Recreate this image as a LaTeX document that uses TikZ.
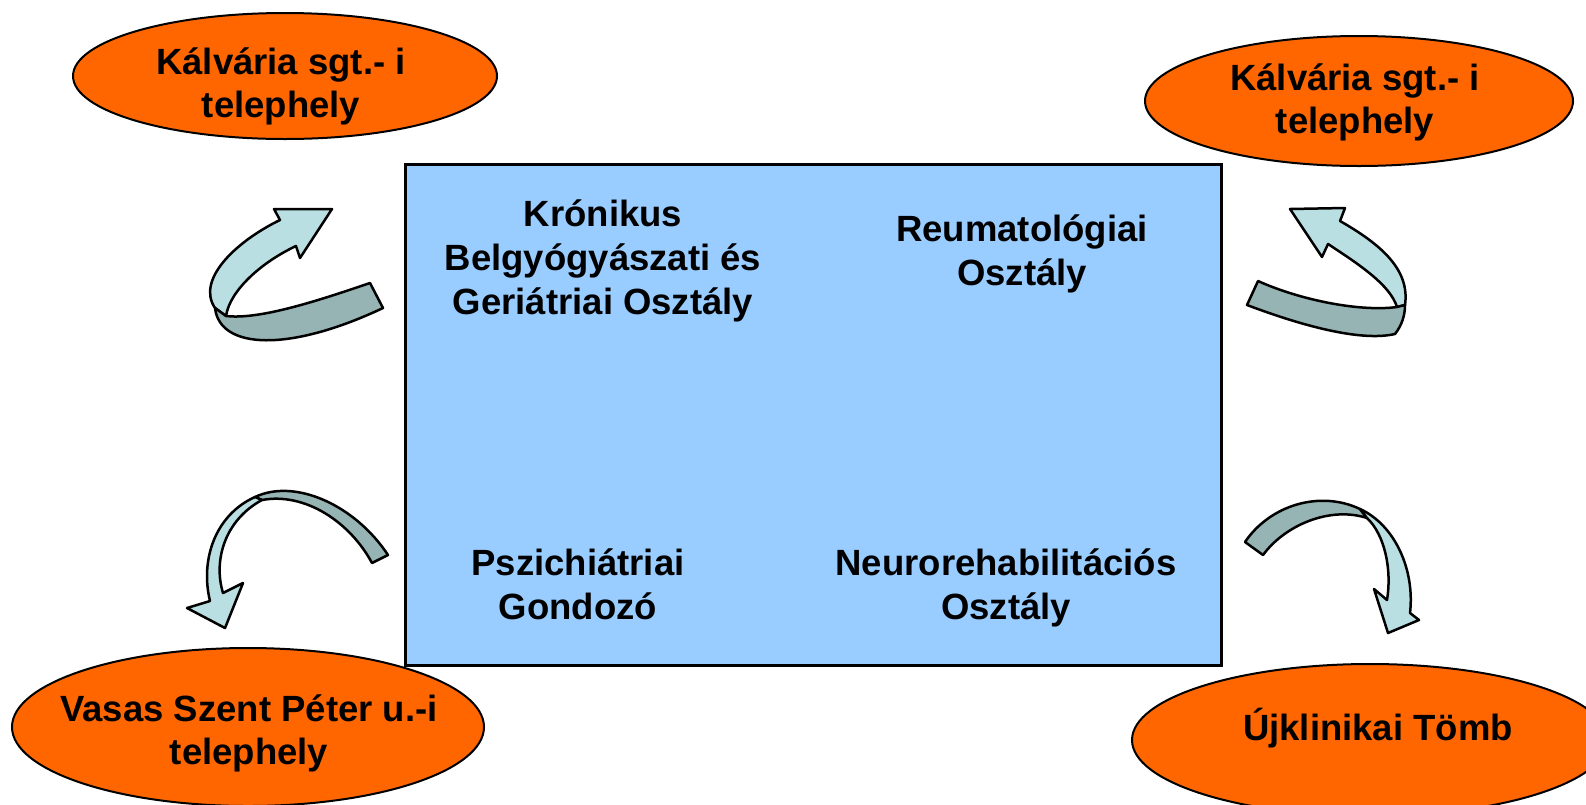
\documentclass[tikz,border=0pt]{standalone}
\usepackage{fontspec}
\setmainfont{Liberation Sans}
\usetikzlibrary{shapes.geometric}
\definecolor{orng}{HTML}{FF6600}
\definecolor{boxblue}{HTML}{99CCFF}
\definecolor{ribbonlight}{HTML}{B9DFE2}
\definecolor{ribbondark}{HTML}{96B4B4}
\tikzset{
  site/.style={ellipse, draw=black, line width=2pt, fill=orng, inner sep=0pt},
  sitetext/.style={anchor=base, inner sep=0pt, font=\bfseries\fontsize{36.5}{43}\selectfont},
  unittext/.style={anchor=base, inner sep=0pt, font=\bfseries\fontsize{36.5}{44}\selectfont},
  ribbonA/.style={fill=ribbonlight, draw=black, line width=2.5pt, line join=round},
  ribbonB/.style={fill=ribbondark, draw=black, line width=2.5pt, line join=round}
}
\newcommand{\lines}[1]{\begin{tabular}[t]{@{}c@{}}#1\end{tabular}}
\begin{document}
\begin{tikzpicture}[x=1pt,y=-1pt]
\useasboundingbox (0,0) rectangle (1586,804);
\begin{scope}
\clip (0,0) rectangle (1586,804);
% ellipses
\node[site, minimum width=424, minimum height=126] (kalvA) at (285,76) {};
\node[site, minimum width=428, minimum height=130] (kalvB) at (1359,101) {};
\node[site, minimum width=472, minimum height=158] (vasas) at (248,727) {};
\node[site, minimum width=476, minimum height=152] (ujkl) at (1370,740) {};
\end{scope}
\node[sitetext] (kalvAt) at (281,74) {\lines{Kálvária sgt.- i\\telephely}};
\node[sitetext] (kalvBt) at (1355,90) {\lines{Kálvária sgt.- i\\telephely}};
\node[sitetext] (vasast) at (249,721) {\lines{Vasas Szent Péter u.-i\\telephely}};
\node[sitetext] (ujklt) at (1378,740) {Újklinikai Tömb};
% central box
\node[draw=black, line width=3pt, fill=boxblue, minimum width=816, minimum height=501, inner sep=0pt] (box) at (813.5,414.5) {};
\node[unittext] (kron) at (603,226) {\lines{Krónikus\\Belgyógyászati és\\Geriátriai Osztály}};
\node[unittext] (reum) at (1022,241) {\lines{Reumatológiai\\Osztály}};
\node[unittext] (pszi) at (578,575) {\lines{Pszichiátriai\\Gondozó}};
\node[unittext] (neur) at (1006,575) {\lines{Neurorehabilitációs\\Osztály}};
% top-left ribbon arrow
\draw[ribbonA] (280,220) -- (274,209) -- (332,209) -- (300,258) -- (296,246)
  .. controls (262,262) and (230,290) .. (226,316) -- (215,308)
  .. controls (196,280) and (235,242) .. (280,220) -- cycle;
\draw[ribbonB] (215,308) .. controls (220,350) and (290,352) .. (383,308)
  -- (370,283) .. controls (320,300) and (260,320) .. (226,316) -- cycle;
% top-right ribbon arrow
\draw[ribbonA] (1340,221) -- (1345,208) -- (1290,209) -- (1322,257) -- (1328,244)
  .. controls (1360,265) and (1390,285) .. (1397,307) -- (1405,305)
  .. controls (1410,270) and (1382,245) .. (1340,221) -- cycle;
\draw[ribbonB] (1258,281) -- (1247,305) .. controls (1300,325) and (1360,342) .. (1395,334)
  .. controls (1402,325) and (1405,315) .. (1405,305) -- (1397,307)
  .. controls (1360,312) and (1300,300) .. (1258,281) -- cycle;
% bottom-left ribbon arrow
\draw[ribbonB] (255,497) .. controls (295,478) and (355,505) .. (388,555) -- (372,563)
  .. controls (350,522) and (305,492) .. (262,500) -- cycle;
\draw[ribbonA] (255,497) .. controls (215,515) and (200,560) .. (210,601) -- (187,608)
  -- (225,628) -- (243,583) -- (223,593)
  .. controls (213,560) and (225,520) .. (262,500) -- cycle;
% bottom-right ribbon arrow
\draw[ribbonB] (1245,542) .. controls (1270,505) and (1320,490) .. (1360,509) -- (1367,518)
  .. controls (1330,506) and (1285,525) .. (1263,555) -- cycle;
\draw[ribbonA] (1360,509) .. controls (1395,525) and (1415,570) .. (1410,613) -- (1419,620)
  -- (1388,633) -- (1374,589) -- (1387,600)
  .. controls (1392,570) and (1385,535) .. (1367,518) -- cycle;
\end{tikzpicture}
\end{document}
